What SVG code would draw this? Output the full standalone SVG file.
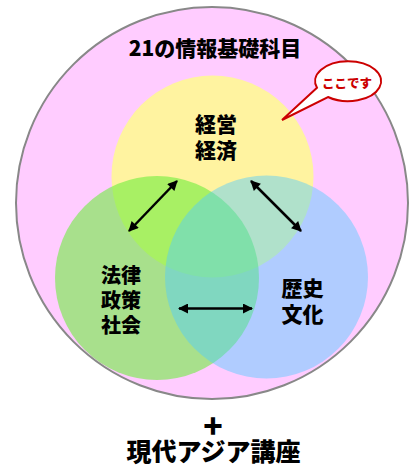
<svg xmlns="http://www.w3.org/2000/svg" width="418" height="471" viewBox="0 0 418 471">
<defs>
<style>
.t{font-family:"Noto Sans CJK JP","Noto Sans CJK SC",sans-serif;font-weight:900;fill:#000;text-anchor:middle}
.a{stroke:#000;stroke-width:2.5;fill:none}
</style>
<marker id="ah" viewBox="0 0 10 10" refX="9" refY="5" markerWidth="4.4" markerHeight="4" markerUnits="strokeWidth" orient="auto-start-reverse">
<path d="M0,0 L10,5 L0,10 Z" fill="#000"/>
</marker>
</defs>
<rect width="418" height="471" fill="#fff"/>
<g id="outer">
<circle cx="212" cy="203" r="196" fill="#FFCCFF" stroke="#888" stroke-width="2"/>
<text class="t" x="215" y="56" font-size="21">21の情報基礎科目</text>
</g>
<g id="keiei">
<circle cx="212.5" cy="176.5" r="101" fill="#FFF3A0"/>
</g>
<g id="houritsu">
<circle cx="157" cy="278" r="102" fill="#69EE39" fill-opacity="0.58"/>
</g>
<g id="rekishi">
<circle cx="266.5" cy="277" r="101.5" fill="#50CCFF" fill-opacity="0.45"/>
</g>
<g id="labels">
<text class="t" x="216" y="132" font-size="21">経営</text>
<text class="t" x="216" y="158" font-size="21">経済</text>
<text class="t" x="121" y="283" font-size="20">法律</text>
<text class="t" x="121" y="308" font-size="20">政策</text>
<text class="t" x="121" y="333" font-size="20">社会</text>
<text class="t" x="302.5" y="296" font-size="21">歴史</text>
<text class="t" x="302.5" y="322" font-size="21">文化</text>
</g>
<g id="connectors">
<line class="a" x1="129" y1="231" x2="177" y2="181" marker-start="url(#ah)" marker-end="url(#ah)"/>
<line class="a" x1="251" y1="181" x2="301" y2="231" marker-start="url(#ah)" marker-end="url(#ah)"/>
<line class="a" x1="179" y1="308.5" x2="252" y2="308.5" marker-start="url(#ah)" marker-end="url(#ah)"/>
</g>
<g id="callout">
<path d="M317,87.8 L282,120 L328,97 A33,20 0 1 0 317,87.8 Z" fill="#fff" stroke="#CC0000" stroke-width="2" stroke-linejoin="miter"/>
<text x="347" y="88" font-size="12.5" font-family="Noto Sans CJK JP, sans-serif" font-weight="900" fill="#CC0000" text-anchor="middle">ここです</text>
</g>
<g id="bottom">
<text class="t" x="213" y="438" font-size="32">+</text>
<text class="t" x="213.5" y="461" font-size="25">現代アジア講座</text>
</g>
</svg>
